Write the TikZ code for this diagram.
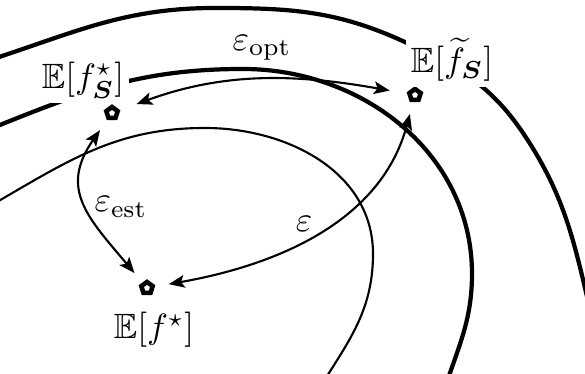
\documentclass[tikz,border=0pt]{standalone}
\usepackage{amsmath,amssymb,bm}
\usetikzlibrary{shapes.geometric,arrows.meta}

\begin{document}
\begin{tikzpicture}[x=0.01cm,y=0.01cm,
		bigarc/.style={line width=1.2pt},
		smallarc/.style={line width=0.6pt},
		estim/.style={regular polygon,regular polygon sides=5,draw,line width=1.3pt,minimum size=3.4pt,inner sep=0pt},
		lab/.style={fill=white,inner sep=1.5pt},
		err/.style={line width=0.6pt,{Stealth[length=4.5pt,width=3.6pt,inset=1pt]}-{Stealth[length=4.5pt,width=3.6pt,inset=1pt]}}]
		\useasboundingbox (0,0) rectangle (585,374);
		\clip (0,0) rectangle (585,374);
		% level curves
		\draw[bigarc] (-10,314) to[out=18,in=180] (215,366) to[out=0,in=155] (407,331)
			to[out=-25,in=124] (523,241) to[out=-56,in=104] (596,40);
		\draw[bigarc] (-10,245) to[out=22,in=180] (243,305) to[out=0,in=90] (472,100)
			to[out=-90,in=74] (440,-30);
		\draw[smallarc] (-10,168) to[out=30,in=180] (205,246) to[out=0,in=90] (373,120)
			to[out=-90,in=60] (310,-30);
		% points
		\node[estim] (fSstar) at (112,261) {};
		\node[estim] (fStilde) at (415,279) {};
		\node[estim] (fstar) at (147,86) {};
		\node[lab] (lfSstar) at (83,294) {$\mathbb{E}[f^\star_{\bm{S}}]$};
		\node[lab] (lfStilde) at (452,314) {$\mathbb{E}[\widetilde{f}_{\bm{S}}]$};
		\node[lab] (lfstar) at (154,44) {$\mathbb{E}[f^\star]$};
		% errors
		\draw[err,shorten <=5pt,shorten >=5pt] (fSstar) to[out=20,in=170] (fStilde);
		\draw[err,shorten <=3.5pt,shorten >=3.5pt] (fSstar) to[out=235,in=130,looseness=1.3] (fstar);
		\draw[err,shorten <=4pt,shorten >=3.5pt] (fstar) to[out=10,in=255] (fStilde);
		\node (eopt) at (262,326) {$\varepsilon_{\mathrm{opt}}$};
		\node (eest) at (121,167) {$\varepsilon_{\mathrm{est}}$};
		\node (eps) at (304,150) {$\varepsilon$};
\end{tikzpicture}
\end{document}
